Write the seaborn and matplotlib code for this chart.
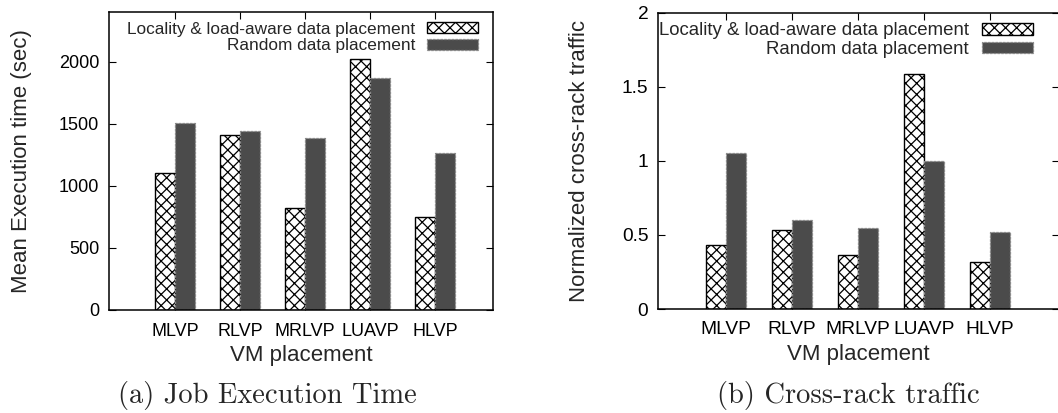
import matplotlib
matplotlib.use("Agg")
import matplotlib.pyplot as plt
import pandas as pd
import seaborn as sns
from matplotlib.patches import Patch

# Data
placements = ["MLVP", "RLVP", "MRLVP", "LUAVP", "HLVP"]
series = ["Locality & load-aware data placement", "Random data placement"]
exec_locality = [1105, 1410, 822, 2020, 748]
exec_random = [1505, 1442, 1388, 1867, 1266]
traffic_locality = [0.43, 0.53, 0.365, 1.585, 0.315]
traffic_random = [1.05, 0.60, 0.55, 1.0, 0.517]
exec_ticks = [0, 500, 1000, 1500, 2000]
exec_tick_labels = ["0", "500", "1000", "1500", "2000"]
traffic_ticks = [0, 0.5, 1, 1.5, 2]
traffic_tick_labels = ["0", "0.5", "1", "1.5", "2"]

sns.set_theme(style="ticks")
plt.rcParams["font.family"] = ["Liberation Sans", "DejaVu Sans"]
plt.rcParams["hatch.linewidth"] = 0.9
plt.rcParams["hatch.color"] = "black"

DARK = "#4b4b4b"
HATCH = "xxx"

W, H = 1058, 413
fig = plt.figure(figsize=(W / 100, H / 100), dpi=100)


def long_frame(a, b):
    return pd.DataFrame({
        "placement": placements * 2,
        "series": [series[0]] * len(placements) + [series[1]] * len(placements),
        "value": list(a) + list(b),
    })


def panel(rect, a, b, ylim, xlim, ticks, ticklabels, ylabel, ylabel_x, legend_x,
          tick_size, legend_size):
    left, bottom, right, top = rect
    ax = fig.add_axes([left / W, 1 - bottom / H, (right - left) / W, (bottom - top) / H])
    sns.barplot(data=long_frame(a, b), x="placement", y="value", hue="series",
                order=placements, hue_order=series, width=0.62,
                palette=["white", DARK], saturation=1, legend=False, ax=ax)
    for p in ax.containers[0]:
        p.set_hatch(HATCH)
        p.set_edgecolor("black")
        p.set_linewidth(1.0)
    for p in ax.containers[1]:
        p.set_edgecolor("#8a8a8a")
        p.set_linestyle((0, (2, 1)))
        p.set_linewidth(0.9)
    ax.set_xlim(*xlim)
    ax.set_ylim(*ylim)
    ax.set_yticks(ticks)
    ax.set_yticklabels(ticklabels)
    ax.set_xlabel("VM placement", fontsize=16, labelpad=4)
    ax.set_ylabel(ylabel, fontsize=16)
    ax.yaxis.set_label_coords(ylabel_x, 0.5)
    ax.tick_params(axis="both", direction="in", length=5, width=0.8,
                   labelsize=tick_size, colors="black", top=True, right=True)
    ax.tick_params(axis="x", pad=9)
    ax.tick_params(axis="y", pad=7)
    for s in ax.spines.values():
        s.set_color("black")
        s.set_linewidth(1.1)
        s.set_visible(True)
    handles = [
        Patch(facecolor="white", edgecolor="black", hatch=HATCH, linewidth=1.0),
        Patch(facecolor=DARK, edgecolor="#8a8a8a", linestyle=(0, (2, 1)), linewidth=0.9),
    ]
    ax.legend(handles, series, loc="upper right", bbox_to_anchor=(legend_x, 0.968),
              frameon=False, markerfirst=False, fontsize=legend_size,
              handlelength=51 / (legend_size * 1.39), handleheight=0.6,
              handletextpad=0.7, labelspacing=0.1,
              borderpad=0, borderaxespad=0)
    return ax


ax1 = panel((109, 310, 493, 12), exec_locality, exec_random, (0, 2400),
            (-1.015, 4.89), exec_ticks, exec_tick_labels,
            "Mean Execution time (sec)", (32 - 109) / (493 - 109),
            (478 - 109) / (493 - 109), 13, 12.4)
ax2 = panel((658, 309, 1059, 12.7), traffic_locality, traffic_random, (0, 2),
            (-1.03, 5.045), traffic_ticks, traffic_tick_labels,
            "Normalized cross-rack traffic", (590 - 658) / (1059 - 658),
            (1033 - 658) / (1059 - 658), 13.8, 13.4)

fig.text(267 / W, 1 - 396 / H, "(a) Job Execution Time", family="cmr10",
         fontsize=20.5, ha="center", va="center")
fig.text(848 / W, 1 - 396 / H, "(b) Cross-rack traffic", family="cmr10",
         fontsize=20.5, ha="center", va="center")

fig.savefig("out.png", dpi=100)
